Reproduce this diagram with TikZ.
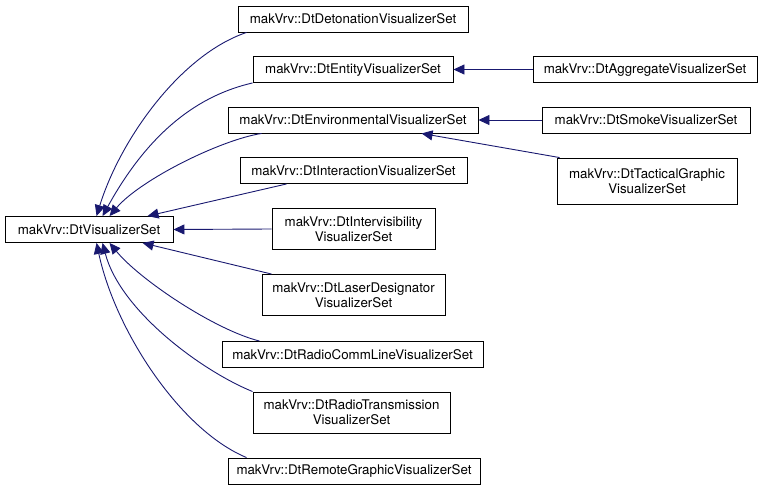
\documentclass[tikz,border=0pt]{standalone}
\usepackage{fontspec}
\setmainfont{TeX Gyre Heros}
\usetikzlibrary{arrows.meta}
\definecolor{edgeblue}{RGB}{25,25,112}
\begin{document}
\begin{tikzpicture}[x=1pt,y=-1pt,
  cls/.style={draw=black,line width=0.9pt,fill=white,inner sep=0pt,
    font=\fontsize{13.3}{15}\selectfont,align=center,minimum height=26},
  two/.style={minimum height=41},
  edge/.style={draw=edgeblue,line width=0.9pt,
    -{Triangle[length=11pt,width=10pt]}}]
\useasboundingbox (0,0) rectangle (765,489);
\node[cls,minimum width=168] (base) at (89,229.5) {makVrv::DtVisualizerSet};
\node[cls,minimum width=230] (det) at (353,19) {makVrv::DtDetonationVisualizerSet};
\node[cls,minimum width=200] (ent) at (353,69.5) {makVrv::DtEntityVisualizerSet};
\node[cls,minimum width=250] (env) at (353,120) {makVrv::DtEnvironmentalVisualizerSet};
\node[cls,minimum width=227] (int) at (353.5,170.5) {makVrv::DtInteractionVisualizerSet};
\node[cls,two,minimum width=163] (intv) at (353.5,229) {makVrv::DtIntervisibility\\VisualizerSet};
\node[cls,two,minimum width=183] (laser) at (353.5,295) {makVrv::DtLaserDesignator\\VisualizerSet};
\node[cls,minimum width=261] (rcomm) at (352.5,354.5) {makVrv::DtRadioCommLineVisualizerSet};
\node[cls,two,minimum width=197] (rtrans) at (351.5,412.5) {makVrv::DtRadioTransmission\\VisualizerSet};
\node[cls,minimum width=252] (remote) at (354,471) {makVrv::DtRemoteGraphicVisualizerSet};
\node[cls,minimum width=224] (agg) at (645,69.5) {makVrv::DtAggregateVisualizerSet};
\node[cls,minimum width=208] (smoke) at (646,120) {makVrv::DtSmokeVisualizerSet};
\node[cls,two,minimum width=180,minimum height=46] (tact) at (647,181) {makVrv::DtTacticalGraphic\\VisualizerSet};

% edges into base
\draw[edge] ([xshift=9pt]det.south west) .. controls (180,55) and (120,140) .. ([xshift=92pt]base.north west);
\draw[edge] ([xshift=0pt]ent.south west) .. controls (200,95) and (150,130) .. ([xshift=98pt]base.north west);
\draw[edge] ([xshift=34pt]env.south west) .. controls (220,140) and (140,180) .. ([xshift=105pt]base.north west);
\draw[edge] ([xshift=47pt]int.south west) -- ([xshift=143pt]base.north west);
\draw[edge] (intv.west) -- (base.east);
\draw[edge] ([xshift=10pt]laser.north west) -- ([xshift=138pt]base.south west);
\draw[edge] ([xshift=38pt]rcomm.north west) .. controls (215,330) and (140,280) .. ([xshift=105pt]base.south west);
\draw[edge] (rtrans.north west) .. controls (200,370) and (120,310) .. ([xshift=98pt]base.south west);
\draw[edge] ([xshift=19pt]remote.north west) .. controls (180,430) and (115,330) .. ([xshift=92pt]base.south west);
% other edges
\draw[edge] (agg.west) -- (ent.east);
\draw[edge] (smoke.west) -- (env.east);
\draw[edge] ([xshift=3pt]tact.north west) -- ([xshift=194pt]env.south west);
\end{tikzpicture}
\end{document}
